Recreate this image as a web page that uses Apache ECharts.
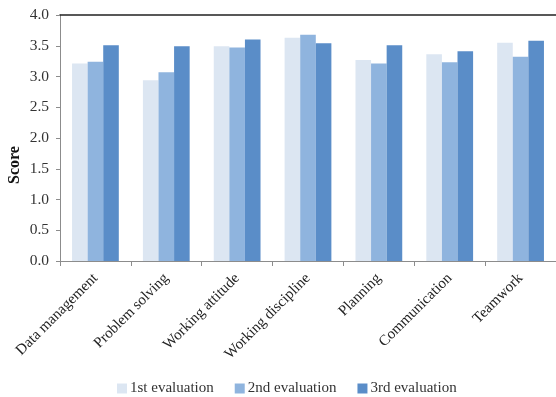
<!DOCTYPE html>
<html>
<head>
<meta charset="utf-8">
<script src="https://cdn.jsdelivr.net/npm/echarts@6/dist/echarts.min.js"></script>
<style>
  html, body { margin: 0; padding: 0; background: #fff; }
  #chart { width: 556px; height: 397px; }
</style>
</head>
<body>
<div id="chart"></div>
<script>
// Skill categories on the x axis
const categories = ['Data management', 'Problem solving', 'Working attitude', 'Working discipline', 'Planning', 'Communication', 'Teamwork'];
// Mean scores per evaluation round
const firstEval  = [3.21, 2.94, 3.49, 3.63, 3.27, 3.36, 3.55];
const secondEval = [3.24, 3.07, 3.47, 3.68, 3.21, 3.23, 3.32];
const thirdEval  = [3.51, 3.49, 3.60, 3.54, 3.51, 3.41, 3.58];
const seriesNames = ['1st evaluation', '2nd evaluation', '3rd evaluation'];
const colors = ['#dce6f2', '#8fb4de', '#5a8dc8'];

const font = '"Liberation Serif", "Times New Roman", serif';
const chart = echarts.init(document.getElementById('chart'), null, { renderer: 'canvas' });

const values = [firstEval, secondEval, thirdEval];
chart.setOption({
  animation: false,
  textStyle: { fontFamily: font },
  grid: { left: 60, top: 15, width: 499, height: 246, containLabel: false },
  legend: {
    top: 376,
    left: 112,
    itemWidth: 10,
    itemHeight: 10,
    itemGap: 21,
    icon: 'rect',
    textStyle: { fontFamily: font, fontSize: 15, color: '#333', padding: [0, 0, 0, -2] },
    data: seriesNames
  },
  // y-axis title, set a little below the plot's midline
  graphic: [{
    type: 'text',
    x: 15, y: 165,
    rotation: Math.PI / 2,
    style: {
      text: 'Score',
      font: 'bold 16px ' + font,
      fill: '#111',
      textAlign: 'center',
      textVerticalAlign: 'middle'
    }
  }],
  xAxis: [{
    type: 'category',
    data: categories,
    axisLine: { lineStyle: { color: '#8c8c8c', width: 1 } },
    axisTick: { show: true, length: 5, lineStyle: { color: '#8c8c8c' } },
    axisLabel: { rotate: 45, fontFamily: font, fontSize: 15, color: '#222', margin: 15, interval: 0 }
  }, {
    type: 'category',
    position: 'top',
    data: categories,
    axisLine: { lineStyle: { color: '#222', width: 1.5 } },
    axisTick: { show: false },
    axisLabel: { show: false }
  }],
  yAxis: {
    type: 'value',
    min: 0, max: 4, interval: 0.5,
    axisLine: { show: true, lineStyle: { color: '#8c8c8c' } },
    axisTick: { show: true, length: 4, lineStyle: { color: '#8c8c8c' } },
    axisLabel: { fontFamily: font, fontSize: 15.5, color: '#333', margin: 11, formatter: v => v.toFixed(1) },
    splitLine: { show: false }
  },
  series: seriesNames.map((n, i) => ({
    name: n,
    type: 'bar',
    data: values[i],
    barGap: '0%',
    barCategoryGap: '34%',
    itemStyle: { color: colors[i] }
  }))
});
</script>
</body>
</html>
